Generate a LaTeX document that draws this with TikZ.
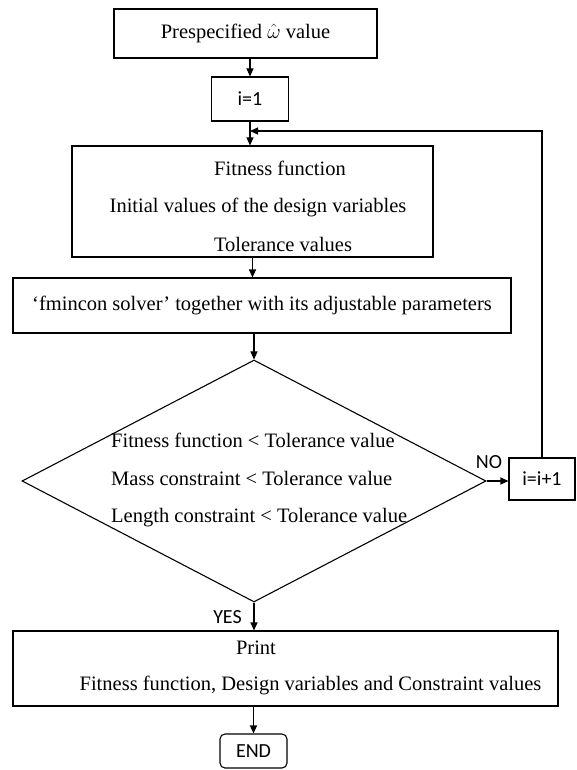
\documentclass[tikz,border=0pt]{standalone}
\usepackage{fontspec}
\setmainfont{Liberation Serif}
\newfontfamily\sansf{Carlito}
\usetikzlibrary{shapes.geometric,arrows.meta}
\begin{document}
\begin{tikzpicture}[x=1pt,y=-1pt,
  every node/.style={font=\fontsize{20.5}{24}\selectfont},
  box/.style={draw, line width=1.1pt, inner sep=0pt},
  lbl/.style={inner sep=0pt},
  sans/.style={font=\sansf\fontsize{20}{24}\selectfont},
  arr/.style={line width=1.1pt, -{Triangle[length=8pt,width=7pt]}},
  ln/.style={line width=1.1pt}]
\useasboundingbox (0,0) rectangle (576,770);
% boxes
\node[box, minimum width=263pt, minimum height=49pt] (top) at (245.5,33.5) {Prespecified $\hat{\omega}$ value};
\node[box, sans, minimum width=77pt, minimum height=44pt] (i1) at (250,99) {i=1};
\node[box, minimum width=361pt, minimum height=111pt] (fit) at (252.5,201.5) {};
\node[lbl] (f1) at (280,168) {Fitness function};
\node[lbl] (f2) at (258,207) {Initial values of the design variables};
\node[lbl] (f3) at (283,244) {Tolerance values};
\node[box, minimum width=498pt, minimum height=55pt] (fmin) at (262,305.5) {‘fmincon solver’ together with its adjustable parameters};
\node[diamond, draw, line width=1.1pt, inner sep=0pt, minimum width=464pt, minimum height=242pt] (dec) at (254,481) {};
\node[lbl, anchor=west, align=left, font=\fontsize{20.5}{37.5}\selectfont] (dtxt) at (111,480)
  {Fitness function < Tolerance value\\Mass constraint < Tolerance value\\Length constraint < Tolerance value};
\node[box, sans, minimum width=66pt, minimum height=42pt] (inc) at (542,479) {i=i+1};
\node[box, minimum width=545pt, minimum height=75pt] (print) at (285.5,668.5) {};
\node[lbl] (p1) at (256,648) {Print};
\node[lbl] (p2) at (310.5,685) {Fitness function, Design variables and Constraint values};
\node[box, sans, rounded corners=5pt, minimum width=67pt, minimum height=34pt] (end) at (253.5,751) {END};
\node[lbl, sans] (no) at (489,462) {NO};
\node[lbl, sans] (yes) at (227.5,617) {YES};
% connectors
\coordinate (join) at (250,131);
\draw[arr] (top.south -| i1.north) -- (i1.north);
\draw[arr] (i1.south) -- (i1.south |- fit.north);
\draw[arr] (fit.south) -- (fit.south |- fmin.north);
\draw[arr] (dec.north |- fmin.south) -- (dec.north);
\draw[arr] (dec.east) -- (dec.east -| inc.west);
\draw[arr] (inc.north) |- (join);
\draw[arr] (dec.south) -- (dec.south |- print.north);
\draw[arr] (end.north |- print.south) -- (end.north);
\end{tikzpicture}
\end{document}
